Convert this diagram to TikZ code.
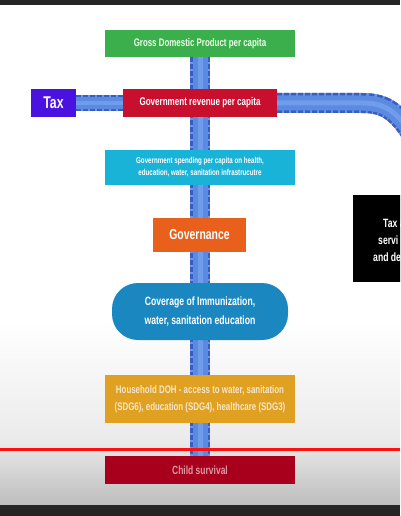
\documentclass[tikz,border=0pt]{standalone}
\usepackage{fontspec}
\newfontfamily\cond[FakeStretch=0.72]{Liberation Sans}
\definecolor{gdpgreen}{HTML}{3BAF4B}
\definecolor{taxpurple}{HTML}{4A12E0}
\definecolor{revred}{HTML}{C8102E}
\definecolor{spendcyan}{HTML}{1AB3D8}
\definecolor{govorange}{HTML}{E8601C}
\definecolor{covblue}{HTML}{1A87C0}
\definecolor{houseorange}{HTML}{E0A022}
\definecolor{childred}{HTML}{A8001C}
\definecolor{pipedark}{HTML}{3A5EC0}
\definecolor{pipeedge}{HTML}{6E96E6}
\definecolor{pipemid}{HTML}{5A8AE2}
\definecolor{pipelight}{HTML}{86AEF2}
\definecolor{barcol}{HTML}{252525}
\definecolor{linered}{HTML}{FF1010}
\pgfdeclarelayer{bg}
\pgfdeclarelayer{pipes}
\pgfsetlayers{bg,pipes,main}
\begin{document}
\begin{tikzpicture}[x=1pt,y=-1pt,
  boxstyle/.style={rectangle, inner sep=0pt, align=center, text=white, font=\cond\bfseries},
  pipe/.style={line width=20pt, draw=pipeedge,
    postaction={draw=pipedark, line width=20pt, dash pattern=on 5pt off 2pt},
    postaction={draw=pipemid, line width=15pt, solid},
    postaction={draw=pipelight, line width=5pt, solid, opacity=.5}},
  thinpipe/.style={line width=16pt, draw=pipeedge,
    postaction={draw=pipedark, line width=16pt, dash pattern=on 5pt off 2pt},
    postaction={draw=pipemid, line width=12pt, solid},
    postaction={draw=pipelight, line width=4pt, solid, opacity=.5}}]
\useasboundingbox (0,0) rectangle (400,516);
\clip (0,0) rectangle (400,516);
% background
\begin{pgfonlayer}{bg}
\fill[white] (0,0) rectangle (400,320);
\shade[top color=white, bottom color=black!8] (0,320) rectangle (400,440);
\shade[top color=black!8, bottom color=black!26] (0,440) rectangle (400,506);
\fill[barcol] (0,0) rectangle (400,5);
\fill[barcol] (0,505) rectangle (400,516);
\end{pgfonlayer}
% nodes
\node[boxstyle, fill=gdpgreen, minimum width=190pt, minimum height=27pt, font=\cond\bfseries\fontsize{11}{12}\selectfont, text=white!92!green] (gdp) at (200,43.5) {Gross Domestic Product per capita};
\node[boxstyle, fill=taxpurple, minimum width=45pt, minimum height=28pt, font=\cond\bfseries\fontsize{17}{18}\selectfont] (tax) at (53.5,103) {Tax};
\node[boxstyle, fill=revred, minimum width=154pt, minimum height=28pt, font=\cond\bfseries\fontsize{11.2}{12}\selectfont] (rev) at (200,103) {Government revenue per capita};
\node[boxstyle, fill=spendcyan, minimum width=190pt, minimum height=35pt, font=\cond\bfseries\fontsize{8.6}{12}\selectfont] (spend) at (200,167.5) {Government spending per capita on health,\\education, water, sanitation infrastrucutre};
\node[boxstyle, fill=govorange, minimum width=93pt, minimum height=34pt, font=\cond\bfseries\fontsize{14.5}{16}\selectfont] (gov) at (199.5,235) {Governance};
\node[boxstyle, fill=covblue, minimum width=176pt, minimum height=57pt, rounded corners=26pt, font=\cond\bfseries\fontsize{12}{19}\selectfont] (cov) at (200,311.5) {Coverage of Immunization,\\water, sanitation education};
\node[boxstyle, fill=houseorange, minimum width=190pt, minimum height=48pt, text=white!75!houseorange, font=\cond\bfseries\fontsize{11}{17}\selectfont] (house) at (200,399) {Household DOH - access to water, sanitation\\(SDG6), education (SDG4), healthcare (SDG3)};
\node[boxstyle, fill=childred, minimum width=190pt, minimum height=28pt, text=white!60!childred, font=\cond\bfseries\fontsize{11.8}{13}\selectfont] (child) at (200,470) {Child survival};
% black box
\node[rectangle, fill=black, minimum width=60pt, minimum height=87pt, inner sep=0pt, anchor=north west] (blk) at (353,195) {};
\node[anchor=west, text=white, inner sep=0pt, font=\cond\bfseries\fontsize{12}{13}\selectfont] (blk1) at (383,223) {Tax a};
\node[anchor=west, text=white, inner sep=0pt, font=\cond\bfseries\fontsize{12}{13}\selectfont] (blk2) at (378,240) {servi};
\node[anchor=west, text=white, inner sep=0pt, font=\cond\bfseries\fontsize{12}{13}\selectfont] (blk3) at (373,257) {and de};
% pipes (behind boxes)
\coordinate (bend) at (362,103);
\coordinate (pipeend) at (425,160);
\begin{pgfonlayer}{pipes}
\draw[pipe] (gdp.south) -- (child.north);
\draw[thinpipe] (tax.east) -- (rev.west);
\draw[pipe] (rev.east) -- (bend) .. controls (385,103) and (402,110) .. (pipeend);
\draw[linered, line width=3pt] (0,449) -- (400,449);
\end{pgfonlayer}
\end{tikzpicture}
\end{document}
